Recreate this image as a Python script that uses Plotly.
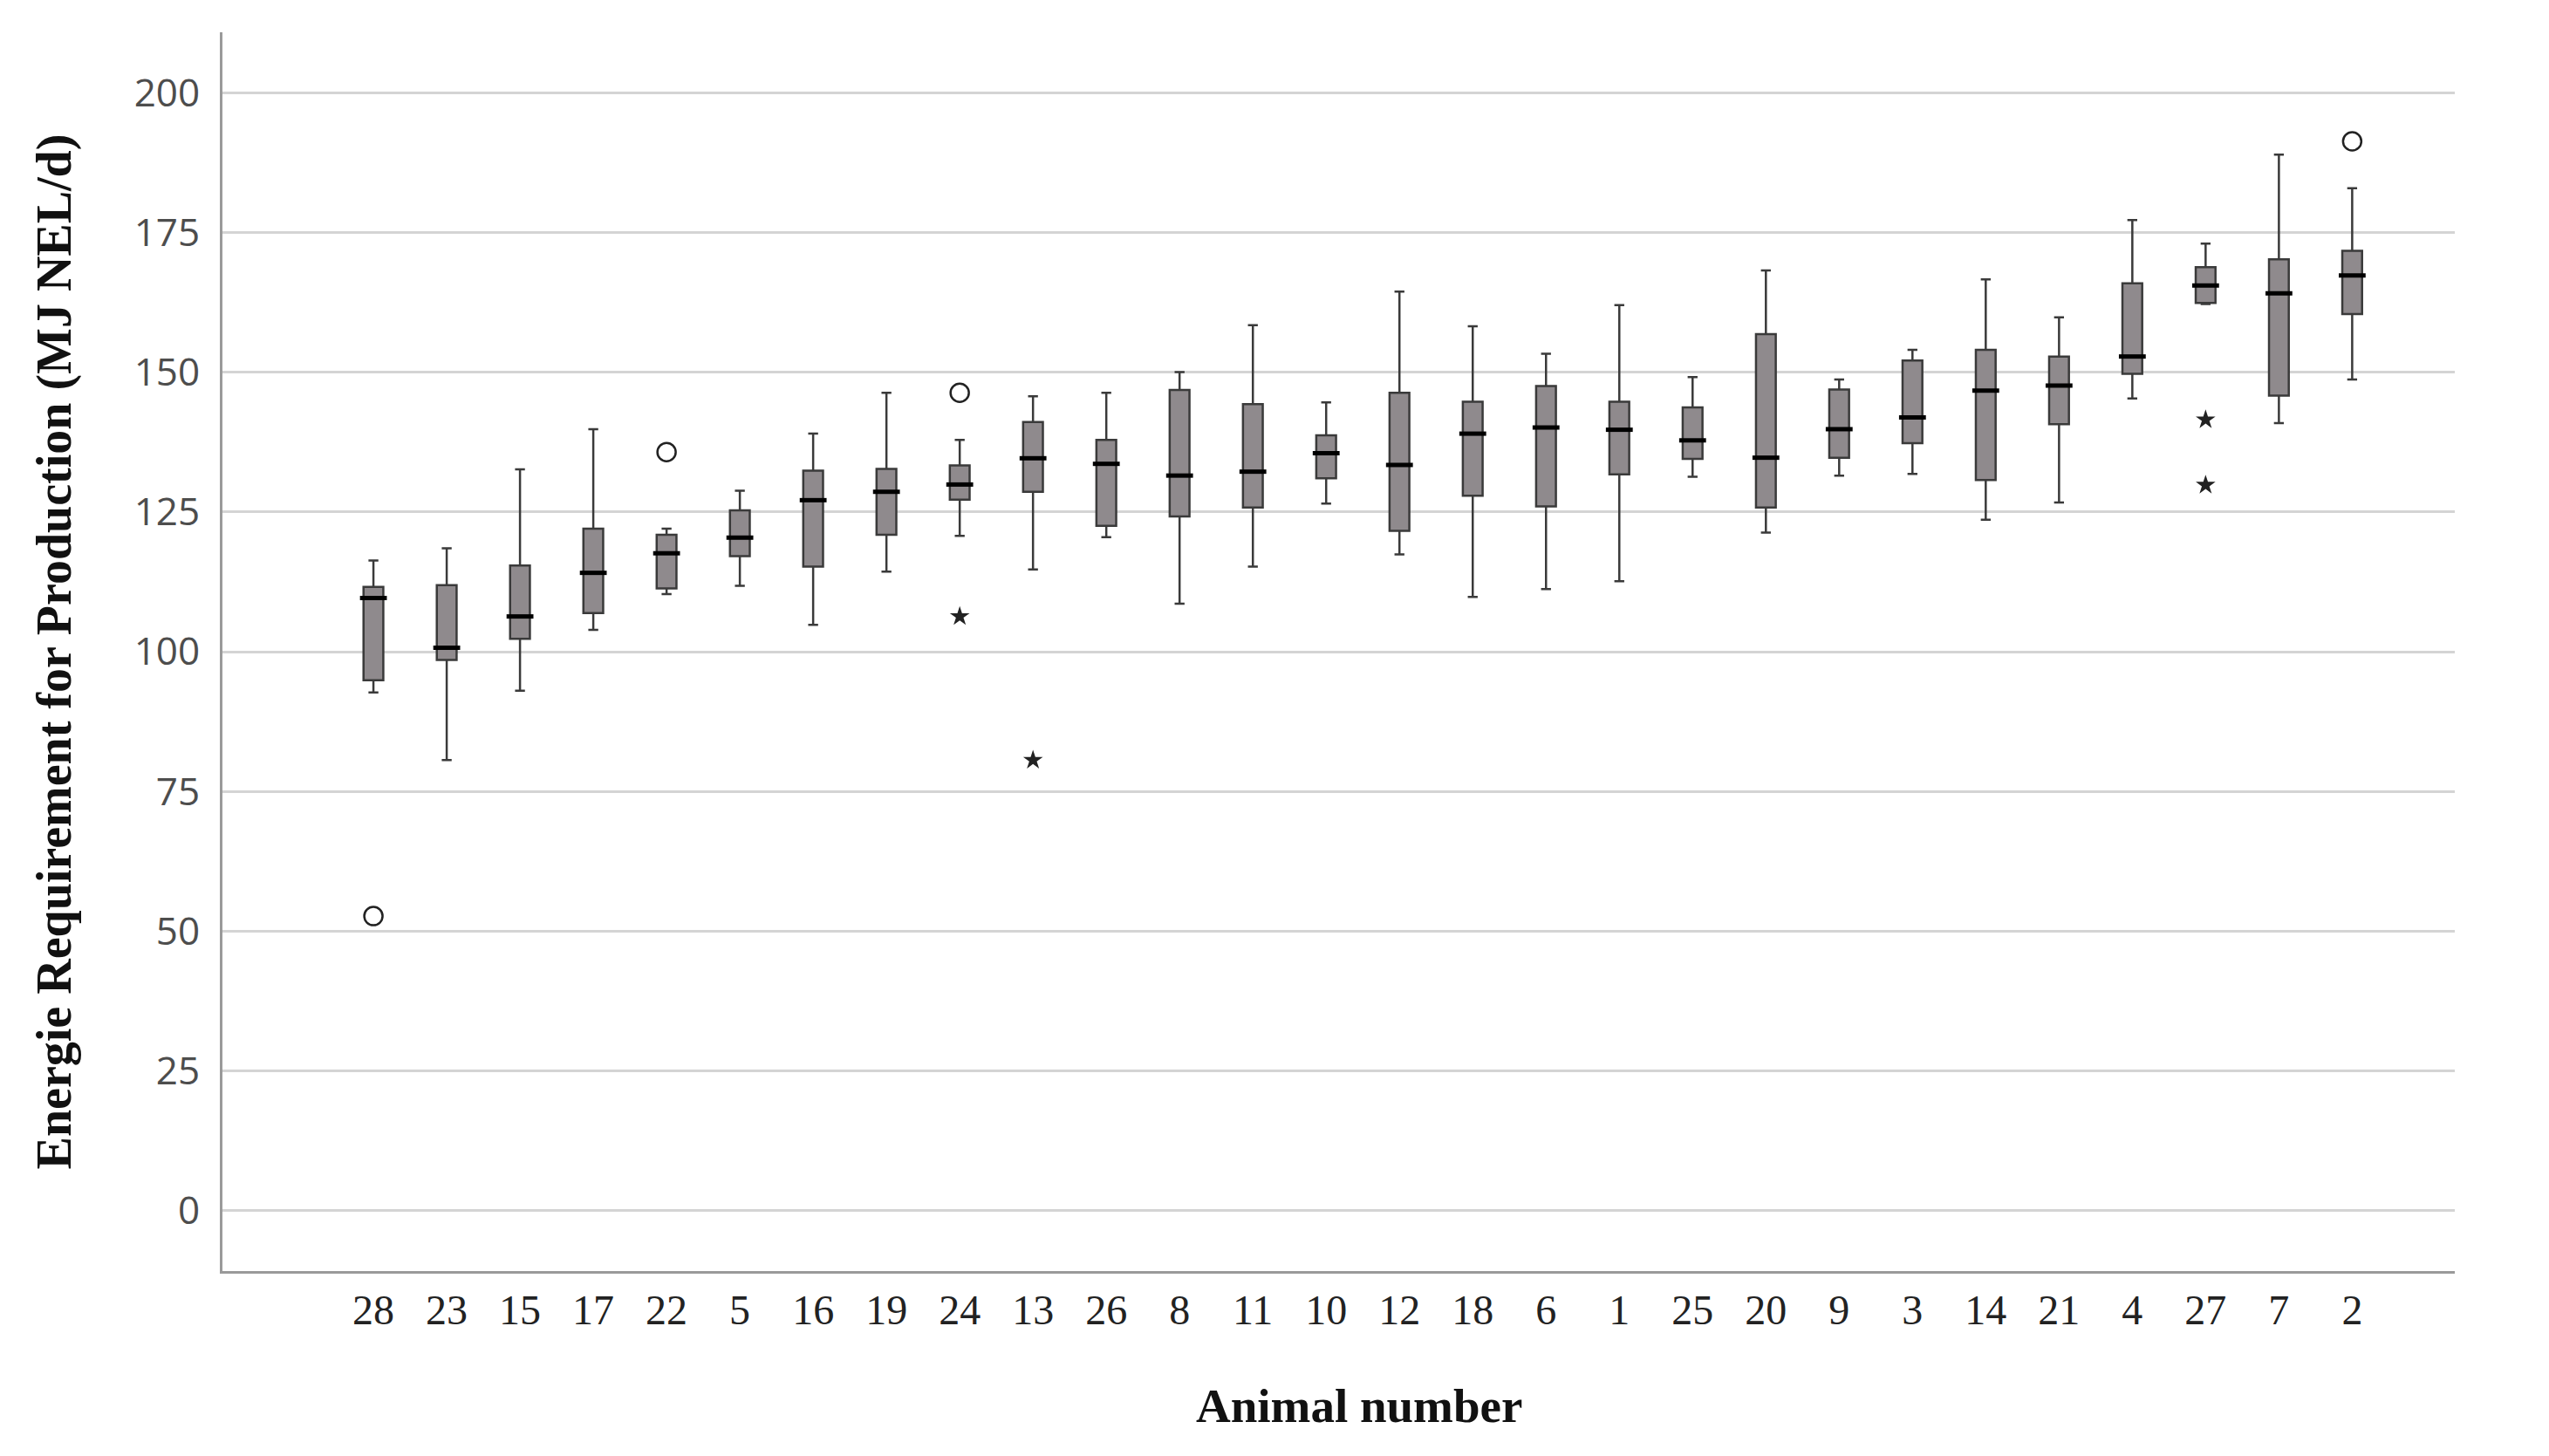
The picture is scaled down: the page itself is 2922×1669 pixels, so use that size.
import plotly.graph_objects as go

animals = ["28", "23", "15", "17", "22", "5", "16", "19", "24", "13", "26", "8", "11", "10",
           "12", "18", "6", "1", "25", "20", "9", "3", "14", "21", "4", "27", "7", "2"]
lower = [92.7, 80.6, 93.0, 103.9, 110.3, 111.8, 104.8, 114.3, 120.7, 114.7, 120.5, 108.6, 115.2, 126.5,
         117.4, 109.8, 111.2, 112.6, 131.3, 121.3, 131.5, 131.8, 123.6, 126.7, 145.3, 162.2, 140.9, 148.7]
q1 = [94.9, 98.5, 102.3, 106.9, 111.3, 117.1, 115.2, 120.9, 127.2, 128.6, 122.5, 124.2, 125.8, 131.0,
      121.6, 127.9, 126.0, 131.7, 134.5, 125.8, 134.7, 137.3, 130.7, 140.7, 149.7, 162.4, 145.8, 160.4]
median = [109.6, 100.7, 106.3, 114.1, 117.6, 120.4, 127.1, 128.6, 129.9, 134.6, 133.6, 131.5, 132.2, 135.5,
          133.4, 139.0, 140.1, 139.7, 137.8, 134.7, 139.8, 141.9, 146.7, 147.6, 152.8, 165.5, 164.1, 167.3]
q3 = [111.6, 111.9, 115.4, 122.0, 120.9, 125.3, 132.4, 132.7, 133.3, 141.1, 137.9, 146.8, 144.3, 138.7,
      146.3, 144.7, 147.5, 144.7, 143.7, 156.8, 146.9, 152.1, 154.0, 152.8, 165.9, 168.8, 170.2, 171.7]
upper = [116.3, 118.5, 132.6, 139.8, 122.0, 128.8, 139.0, 146.3, 137.9, 145.7, 146.3, 150.0, 158.4, 144.6,
         164.4, 158.2, 153.3, 162.0, 149.1, 168.2, 148.7, 154.0, 166.6, 159.8, 177.2, 173.0, 188.9, 182.9]

# outliers (circles) and extreme values (stars)
circle_animals = ["28", "22", "24", "2"]
circle_values = [52.7, 135.7, 146.3, 191.3]
star_animals = ["24", "13", "27", "27"]
star_values = [106.3, 80.6, 141.5, 129.8]

y_ticks = [0, 25, 50, 75, 100, 125, 150, 175, 200]

fig = go.Figure()

fig.add_trace(go.Box(
    x=animals, q1=q1, median=median, q3=q3,
    lowerfence=lower, upperfence=upper,
    boxpoints=False,
    fillcolor="#8f8a8d",
    line=dict(color="#3a3a3a", width=2.5),
    width=0.27,
    whiskerwidth=0.5,
    showlegend=False,
    hoverinfo="skip",
))

# thicker median bars
fig.add_trace(go.Scatter(
    x=animals, y=median, mode="markers",
    marker=dict(symbol="line-ew", size=22, color="black",
                line=dict(color="black", width=5)),
    showlegend=False, hoverinfo="skip",
))

fig.add_trace(go.Scatter(
    x=circle_animals, y=circle_values, mode="markers",
    marker=dict(symbol="circle-open", size=21, color="#222",
                line=dict(color="#222", width=2.5)),
    showlegend=False, hoverinfo="skip",
))

fig.add_trace(go.Scatter(
    x=star_animals, y=star_values, mode="markers",
    marker=dict(symbol="star", size=17, color="#222",
                line=dict(color="#222", width=0)),
    showlegend=False, hoverinfo="skip",
))

fig.update_layout(
    width=2922, height=1669,
    margin=dict(l=255, r=108, t=37, b=212),
    paper_bgcolor="white", plot_bgcolor="white",
    xaxis=dict(
        type="category", categoryorder="array", categoryarray=animals,
        range=[-2.06, 28.4],
        showgrid=False, zeroline=False,
        showline=True, linecolor="#9a9a9a", linewidth=3,
        ticks="",
        tickfont=dict(family="Liberation Serif", size=48, color="#222"),
    ),
    yaxis=dict(
        range=[-10.8, 210.8],
        tickvals=y_ticks, ticktext=[str(v) for v in y_ticks],
        showgrid=True, gridcolor="#d4d4d4", gridwidth=3,
        zeroline=False,
        showline=True, linecolor="#9a9a9a", linewidth=3,
        ticks="outside", ticklen=14, tickcolor="rgba(0,0,0,0)",
        tickfont=dict(family="Open Sans", size=44, color="#4d4d4d"),
        title=dict(text="Energie Requirement for Production (MJ NEL/d)", standoff=55,
                   font=dict(family="Liberation Serif", size=56, color="#111", weight="bold")),
    ),
    annotations=[dict(
        text="Animal number", xref="paper", yref="paper",
        x=0.509, y=-0.109, xanchor="center", yanchor="middle", showarrow=False,
        font=dict(family="Liberation Serif", size=55, color="#111", weight="bold"),
    )],
)

fig.write_html("out.html", config={"displayModeBar": False},
               post_script="document.body.style.margin='0';document.body.style.overflow='hidden';")
